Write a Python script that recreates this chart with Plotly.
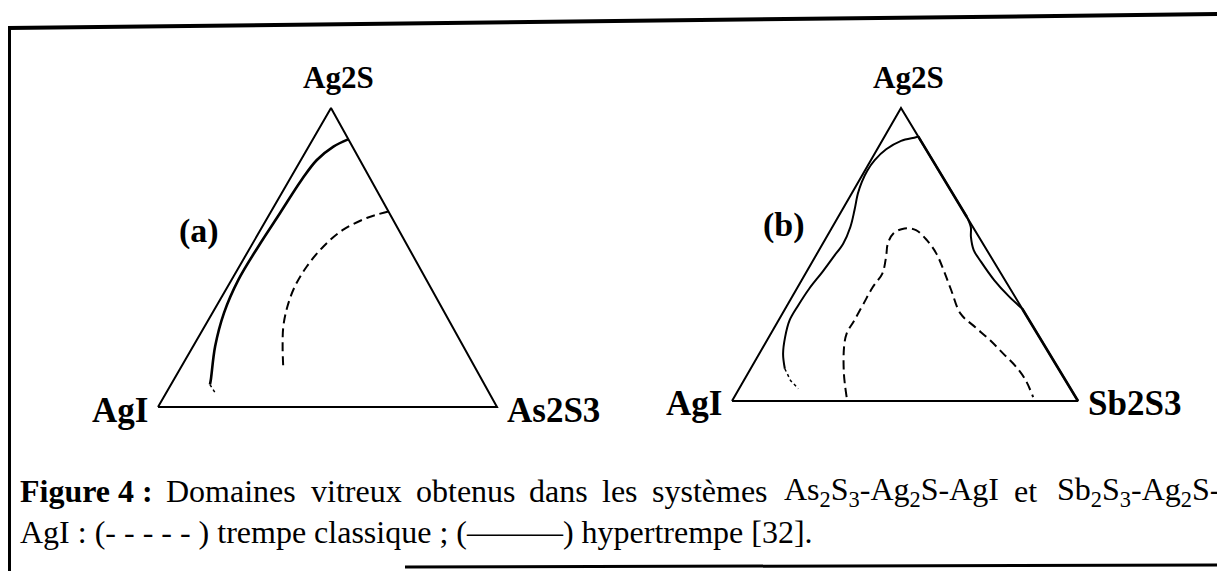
import plotly.graph_objects as go

W, H = 1225, 571
OFF = 8                      # page margin of the browser body
FW, FH = W - OFF, H - OFF    # figure size that fills the window

# ternary compositions (mole fractions): Ag2S and the third component, AgI = rest
# (a) As2S3-Ag2S-AgI
a_hyper_ag2s = [0.895, 0.871, 0.826, 0.760, 0.648, 0.537, 0.426, 0.315, 0.203, 0.092, 0.075]
a_hyper_as2s3 = [0.104, 0.073, 0.047, 0.036, 0.029, 0.022, 0.020, 0.034, 0.065, 0.109, 0.115]
a_tail_ag2s = [0.075, 0.058, 0.042]
a_tail_as2s3 = [0.115, 0.132, 0.150]
a_classic_ag2s = [0.654, 0.632, 0.593, 0.537, 0.470, 0.403, 0.337, 0.270, 0.203, 0.125]
a_classic_as2s3 = [0.346, 0.293, 0.244, 0.214, 0.199, 0.198, 0.210, 0.232, 0.264, 0.306]

# (b) Sb2S3-Ag2S-AgI
b_hyper_ag2s = [0.110, 0.161, 0.218, 0.275, 0.326, 0.384, 0.440, 0.492, 0.537, 0.594,
                0.651, 0.708, 0.748, 0.786, 0.822, 0.859, 0.888, 0.900, 0.903]
b_hyper_sb2s3 = [0.099, 0.069, 0.047, 0.032, 0.032, 0.036, 0.046, 0.053, 0.059, 0.052,
                 0.036, 0.018, 0.010, 0.007, 0.011, 0.026, 0.055, 0.092, 0.097]
b_edge1_ag2s = [0.903, 0.628]
b_edge1_sb2s3 = [0.097, 0.372]
b_bulge_ag2s = [0.628, 0.594, 0.560, 0.515, 0.475, 0.412, 0.357, 0.315]
b_bulge_sb2s3 = [0.372, 0.400, 0.417, 0.447, 0.488, 0.557, 0.626, 0.685]
b_edge2_ag2s = [0.315, 0.0]
b_edge2_sb2s3 = [0.685, 1.0]
b_tail_ag2s = [0.110, 0.070, 0.042]
b_tail_sb2s3 = [0.099, 0.135, 0.171]
b_classic_ag2s = [0.013, 0.093, 0.184, 0.230, 0.275, 0.332, 0.389, 0.435, 0.492, 0.537, 0.572, 0.589,
                  0.583, 0.549, 0.503, 0.446, 0.378, 0.298, 0.252, 0.207, 0.161, 0.116, 0.070, 0.013]
b_classic_sb2s3 = [0.325, 0.278, 0.234, 0.219, 0.219, 0.218, 0.217, 0.222, 0.205, 0.188, 0.187, 0.211,
                   0.247, 0.295, 0.345, 0.394, 0.449, 0.515, 0.580, 0.645, 0.706, 0.765, 0.815, 0.864]

# triangle corners: AgI, third, Ag2S, back to AgI
corner_ag2s = [0, 0, 1, 0]
corner_third = [0, 1, 0, 0]

# caption, first line is justified in the scan (last word flush right)
caption1_words = ['<b>Figure 4 :</b>', 'Domaines', 'vitreux', 'obtenus', 'dans', 'les', 'systèmes',
                  'As<sub>2</sub>S<sub>3</sub>-Ag<sub>2</sub>S-AgI', 'et',
                  'Sb<sub>2</sub>S<sub>3</sub>-Ag<sub>2</sub>S-']
caption1_x = [18, 164, 309, 414, 527, 600, 650, 782, 1012, 1222]
caption2 = 'AgI : (- - - - - ) trempe classique ; (———) hypertrempe [32].'

# pixel placement of each triangle (left x, right x, base y, apex x, apex y)
panels = [
    dict(ax='', left=158, right=497, base=407, apex_x=331, apex_y=108,
         labels=('AgI', 'As2S3'), tag='(a)', tag_pos=(199, 231)),
    dict(ax='2', left=732, right=1078, base=401, apex_x=901, apex_y=108,
         labels=('AgI', 'Sb2S3'), tag='(b)', tag_pos=(784, 225)),
]
LO, HI = -0.06, 1.06

serif = 'Liberation Serif'


def px2x(px):
    return (px - OFF) / FW


def px2y(py):
    return 1 - (py - OFF) / FH


def to_xy(ag2s, third, skew):
    x = [c + skew * a for a, c in zip(ag2s, third)]
    return x, list(ag2s)


fig = go.Figure()
layout_axes = {}
annotations = []

for p in panels:
    skew = (p['apex_x'] - p['left']) / (p['right'] - p['left'])
    p['skew'] = skew
    sx = p['right'] - p['left']
    sy = p['base'] - p['apex_y']
    xdom = [px2x(p['left'] + LO * sx), px2x(p['left'] + HI * sx)]
    ydom = [px2y(p['base'] - LO * sy), px2y(p['base'] - HI * sy)]
    axis = dict(range=[LO, HI], visible=False, showgrid=False, zeroline=False, fixedrange=True)
    layout_axes['xaxis' + p['ax']] = dict(axis, domain=xdom, anchor='y' + p['ax'])
    layout_axes['yaxis' + p['ax']] = dict(axis, domain=ydom, anchor='x' + p['ax'])

    xr, yr = 'x' + p['ax'], 'y' + p['ax']
    top = dict(xref=xr, yref=yr, showarrow=False, font=dict(family=serif, size=31, color='black'))
    low = dict(top, font=dict(family=serif, size=35, color='black'))
    annotations.append(dict(top, text='<b>Ag2S</b>', x=skew, y=1, xanchor='center',
                            yanchor='bottom', xshift=7, yshift=11))
    annotations.append(dict(low, text='<b>%s</b>' % p['labels'][0], x=0, y=0, xanchor='right',
                            yanchor='middle', xshift=-8, yshift=-3))
    annotations.append(dict(low, text='<b>%s</b>' % p['labels'][1], x=1, y=0, xanchor='left',
                            yanchor='middle', xshift=8, yshift=-3))
    annotations.append(dict(text='<b>%s</b>' % p['tag'], xref='paper', yref='paper',
                            x=px2x(p['tag_pos'][0]), y=px2y(p['tag_pos'][1]),
                            showarrow=False, xanchor='center', yanchor='middle',
                            font=dict(family=serif, size=34, color='black')))


def add_line(ag2s, third, p, width=2, dash='solid', shape='linear'):
    x, y = to_xy(ag2s, third, p['skew'])
    fig.add_trace(go.Scatter(x=x, y=y, mode='lines', xaxis='x' + p['ax'], yaxis='y' + p['ax'],
                             line=dict(color='black', width=width, dash=dash, shape=shape),
                             showlegend=False, hoverinfo='skip'))


pa, pb = panels
for p in panels:
    add_line(corner_ag2s, corner_third, p, width=2)

add_line(a_hyper_ag2s, a_hyper_as2s3, pa, width=2.6, shape='spline')
add_line(a_tail_ag2s, a_tail_as2s3, pa, width=1.5, dash='dot')
add_line(a_classic_ag2s, a_classic_as2s3, pa, width=2, dash='9px,5px', shape='spline')

add_line(b_hyper_ag2s, b_hyper_sb2s3, pb, width=2, shape='spline')
add_line(b_edge1_ag2s, b_edge1_sb2s3, pb, width=2.6)
add_line(b_bulge_ag2s, b_bulge_sb2s3, pb, width=2, shape='spline')
add_line(b_edge2_ag2s, b_edge2_sb2s3, pb, width=2.6)
add_line(b_tail_ag2s, b_tail_sb2s3, pb, width=1.5, dash='dot')
add_line(b_classic_ag2s, b_classic_sb2s3, pb, width=2, dash='9px,5px', shape='spline')

# caption
cap = dict(xref='paper', yref='paper', showarrow=False, xanchor='left', yanchor='middle',
           font=dict(family=serif, size=32, color='black'))
last = len(caption1_words) - 1
for i, (word, wx) in enumerate(zip(caption1_words, caption1_x)):
    annotations.append(dict(cap, x=px2x(wx), y=px2y(491), text=word,
                            xanchor='right' if i == last else 'left'))
annotations.append(dict(cap, x=px2x(18), y=px2y(532), text=caption2))


# frame of the scanned figure
def seg(x0, y0, x1, y1, w):
    return dict(type='line', xref='paper', yref='paper', x0=px2x(x0), y0=px2y(y0),
                x1=px2x(x1), y1=px2y(y1), line=dict(color='black', width=w))


shapes = [seg(8, 28, 1225, 14, 4), seg(9.5, 27, 9.5, 571, 3), seg(405, 567, 1225, 565, 3)]

fig.update_layout(width=FW, height=FH, margin=dict(l=0, r=0, t=0, b=0),
                  paper_bgcolor='white', plot_bgcolor='white',
                  annotations=annotations, shapes=shapes, **layout_axes)

fig.write_html("out.html")
